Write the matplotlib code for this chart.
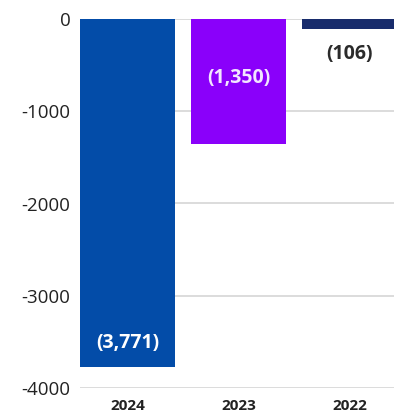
import matplotlib
matplotlib.use("Agg")
import matplotlib.pyplot as plt

years = ["2024", "2023", "2022"]
values = [-3771, -1350, -106]
labels = ["(3,771)", "(1,350)", "(106)"]
bar_colors = ["#034CA8", "#8A00FA", "#182C6C"]
label_colors = ["white", "#F2E6FF", "#2B2B2B"]
yticks = [0, -1000, -2000, -3000, -4000]

plt.rcParams["font.family"] = ["Open Sans", "DejaVu Sans"]
plt.rcParams["axes.unicode_minus"] = False

fig = plt.figure(figsize=(3.94, 4.19), dpi=100)
ax = fig.add_axes([80 / 394, 1 - 388 / 419, 1 - 80 / 394, (388 - 19) / 419])

x = list(range(len(years)))
bars = ax.bar(x, values, width=0.86, color=bar_colors, zorder=2)

# label offsets (points) from bar end, as in the source
offsets = [17, 47, -18]
for b, lab, col, off in zip(bars, labels, label_colors, offsets):
    ax.annotate(lab, (b.get_x() + b.get_width() / 2, b.get_height()),
                xytext=(0, off), textcoords="offset points",
                ha="center", va="center", color=col,
                fontsize=14, fontweight="bold")

ax.set_xlim(-0.43, 2.4)
ax.set_ylim(-4000, 0)
ax.set_yticks(yticks)
ax.set_yticklabels([str(v) for v in yticks])
ax.set_xticks(x)
ax.set_xticklabels(years, fontweight="bold", fontsize=11)
ax.tick_params(axis="y", length=0, pad=7, labelsize=13.5, labelcolor="#222222")
ax.tick_params(axis="x", length=0, pad=8, labelcolor="#222222")
ax.grid(axis="y", color="#d6d6d6", linewidth=1.2, zorder=0)
ax.set_axisbelow(True)
for s in ax.spines.values():
    s.set_visible(False)

fig.savefig("out.png", dpi=100)
